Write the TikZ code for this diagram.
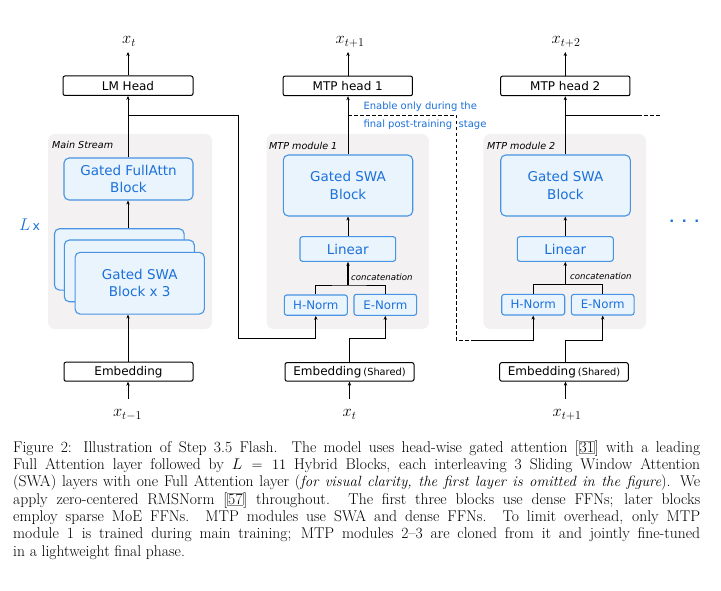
\documentclass[tikz,border=0pt]{standalone}
\usepackage{fontspec}
\usetikzlibrary{arrows.meta}
\DeclareFontShape{OML}{cmm}{m}{it}{<-11>cmmi10<11->cmmi12}{}
\newfontfamily\dv{DejaVu Sans}
\definecolor{bluetxt}{RGB}{28,112,218}
\definecolor{blueborder}{RGB}{72,148,226}
\definecolor{bluefill}{RGB}{233,244,253}
\definecolor{panelgray}{RGB}{243,241,241}
\newcommand\mycite[1]{[{\setlength\fboxsep{0.4pt}\setlength\fboxrule{0.5pt}\fcolorbox{black!45}{white}{#1}}]}
\makeatletter
\newcommand\capit[1]{{\itshape\pgfmathsetmacro\tmpsz{0.95*\f@size}\fontsize{\tmpsz pt}{\f@baselineskip}\selectfont #1}}
\makeatother
\newlength\capw \newlength\tmpw
\newcommand\capfont{\fontsize{13.5}{17.3}\selectfont}
\newcommand\capA{Figure 2: Illustration of Step 3.5 Flash. The model uses head-wise gated attention \mycite{31} with a leading}
\newcommand\capB{Full Attention layer followed by $L = 11$ Hybrid Blocks, each interleaving 3 Sliding Window Attention}
\newcommand\capC{(SWA) layers with one Full Attention layer (\capit{for visual clarity, the first layer is omitted in the figure}). We}
\newcommand\capD{apply zero-centered RMSNorm \mycite{57} throughout. The first three blocks use dense FFNs; later blocks}
\newcommand\capE{employ sparse MoE FFNs. MTP modules use SWA and dense FFNs. To limit overhead, only MTP}
\newcommand\capF{module 1 is trained during main training; MTP modules 2--3 are cloned from it and jointly fine-tuned}
\newcommand\capG{in a lightweight final phase.}
\newcommand\capmeasure[1]{\settowidth\tmpw{\capfont #1}\ifdim\tmpw>\capw\global\capw=\tmpw\fi}
\tikzset{
  blackbox/.style={draw=black, line width=1pt, fill=white, rounded corners=2pt, inner sep=0pt,
    font=\dv\fontsize{12}{14}\selectfont},
  blueblock/.style={draw=blueborder, line width=1.1pt, fill=bluefill, rounded corners=5pt,
    text=bluetxt, align=center, inner sep=0pt, font=\dv\fontsize{13.5}{17.5}\selectfont},
  smallblue/.style={draw=blueborder, line width=1.1pt, fill=bluefill, rounded corners=2.5pt,
    text=bluetxt, inner sep=0pt},
  panel/.style={fill=panelgray, rounded corners=7pt, draw=none, inner sep=0pt},
  paneltitle/.style={font=\dv\itshape\fontsize{9.6}{11}\selectfont, anchor=west, inner sep=0pt},
  mathlbl/.style={font=\fontsize{16.5}{19}\selectfont, inner sep=0pt, anchor=base},
  conn/.style={draw=black, line width=0.9pt},
  arr/.style={conn, -{Stealth[length=4pt,width=3.4pt]}},
  dashconn/.style={conn, dash pattern=on 3.5pt off 2.5pt},
  bluenote/.style={text=bluetxt, font=\dv\fontsize{10}{12}\selectfont, anchor=west, inner sep=0pt},
}
\begin{document}
\begin{tikzpicture}[x=1pt,y=-1pt]
\fill[white] (0,0) rectangle (721,591);
\useasboundingbox (0,0) rectangle (721,591);

% ---------- panels ----------
\node[panel, minimum width=164pt, minimum height=195pt] (p0) at (130,231.5) {};
\node[panel, minimum width=162.3pt, minimum height=195pt] (p1) at (347.8,231.5) {};
\node[panel, minimum width=162.7pt, minimum height=195pt] (p2) at (564.7,231.5) {};
\node[paneltitle] (t0) at (52,145) {Main Stream};
\node[paneltitle] (t1) at (269,145.5) {MTP module 1};
\node[paneltitle] (t2) at (487,145.5) {MTP module 2};

% ---------- main stream ----------
\node[blackbox, minimum width=130pt, minimum height=19.5pt] (lmhead) at (128,85.7) {LM Head};
\node[blueblock, minimum width=129pt, minimum height=42pt] (fullattn) at (128.5,179) {Gated FullAttn\\Block};
\node[smallblue, rounded corners=5pt, minimum width=129.7pt, minimum height=61.3pt] (sback) at (119.3,259.4) {};
\node[smallblue, rounded corners=5pt, minimum width=130pt, minimum height=61.7pt] (smid) at (129.3,270.9) {};
\node[blueblock, minimum width=129.3pt, minimum height=61.7pt] (sfront) at (139.7,283.2) {Gated SWA\\Block x 3};
\node[blackbox, minimum width=129pt, minimum height=19pt] (emb0) at (128.5,371.7) {Embedding};
\node[mathlbl] (xo0) at (129,44) {$x_t$};
\node[mathlbl] (xi0) at (127.5,416.7) {$x_{t-1}$};
\node[text=bluetxt, anchor=base west, inner sep=0pt] (lx) at (19,230)
  {\fontsize{17}{19}\selectfont$L$\hspace{2pt}{\dv\fontsize{12.5}{14}\selectfont x}};

\coordinate (xo0e) at (128,52);
\coordinate (xi0s) at (128,398.5);
\coordinate (j0) at (128,115);
\coordinate (c0) at (238.3,338.3);

\draw[arr] (lmhead.north -| xo0e) -- (xo0e);
\draw[arr] (fullattn.north -| j0) -- (lmhead.south -| j0);
\draw[arr] (j0 |- sback.north) -- (fullattn.south -| j0);
\draw[arr] (emb0.north -| j0) -- (sfront.south -| j0);
\draw[arr] (xi0s) -- (emb0.south -| xi0s);

% ---------- MTP module 1 ----------
\node[blackbox, minimum width=129.3pt, minimum height=19.7pt] (head1) at (347.8,85.9) {MTP head 1};
\node[blueblock, minimum width=129.4pt, minimum height=61pt] (swa1) at (348,185.5) {Gated SWA\\Block};
\node[smallblue, minimum width=95.7pt, minimum height=24.6pt, font=\dv\fontsize{13.5}{16}\selectfont] (lin1) at (347.8,249) {Linear};
\node[smallblue, minimum width=63pt, minimum height=20.3pt, font=\dv\fontsize{11.8}{14}\selectfont] (hn1) at (315.8,305.1) {H-Norm};
\node[smallblue, minimum width=62.7pt, minimum height=21pt, font=\dv\fontsize{11.8}{14}\selectfont] (en1) at (385.3,304.8) {E-Norm};
\node[blackbox, minimum width=129pt, minimum height=18.5pt] (emb1) at (349.5,371.9)
  {Embedding\,{\fontsize{9.8}{11}\selectfont(Shared)}};
\node[mathlbl] (xo1) at (350,44) {$x_{t+1}$};
\node[mathlbl] (xi1) at (349.5,416.7) {$x_t$};
\node[anchor=west, inner sep=0pt, font=\dv\itshape\fontsize{8.6}{10}\selectfont] (cc1) at (351,277.3) {concatenation};
\node[bluenote] (n1) at (363.3,106.7) {Enable only during the};
\node[bluenote] (n2) at (363.3,124.3) {final post-training\hspace{6.5pt}stage};

\coordinate (xo1e) at (348,52);
\coordinate (xi1s) at (349.5,398.5);
\coordinate (k1) at (348,285);
\coordinate (b1) at (349.5,338.5);
\coordinate (d0) at (348,115);
\coordinate (d1) at (456,340);
\coordinate (d2) at (472,340);

\draw[arr] (head1.north -| xo1e) -- (xo1e);
\draw[arr] (swa1.north -| d0) -- (head1.south -| d0);
\draw[arr] (lin1.north -| k1) -- (swa1.south -| k1);
\draw[conn] (hn1.north) |- (k1) -| (en1.north);
\draw[arr, line width=1.3pt] (k1) -- (lin1.south -| k1);
\draw[conn] (j0) -| (c0);
\draw[arr] (c0) -| (hn1.south);
\draw[arr] (emb1.north -| b1) -- (b1) -| (en1.south);
\draw[arr] (xi1s) -- (emb1.south -| xi1s);
\draw[dashconn] (d0) -| (d1) -- (d2);

% ---------- MTP module 2 ----------
\node[blackbox, minimum width=129.3pt, minimum height=19.7pt] (head2) at (565.3,85.9) {MTP head 2};
\node[blueblock, minimum width=129.6pt, minimum height=61pt] (swa2) at (565.5,185.5) {Gated SWA\\Block};
\node[smallblue, minimum width=96pt, minimum height=24.6pt, font=\dv\fontsize{13.5}{16}\selectfont] (lin2) at (565.3,249) {Linear};
\node[smallblue, minimum width=63pt, minimum height=20.6pt, font=\dv\fontsize{11.8}{14}\selectfont] (hn2) at (533.2,304.7) {H-Norm};
\node[smallblue, minimum width=62.7pt, minimum height=20.6pt, font=\dv\fontsize{11.8}{14}\selectfont] (en2) at (602.7,304.7) {E-Norm};
\node[blackbox, minimum width=128.6pt, minimum height=18.5pt] (emb2) at (564,371.9)
  {Embedding\,{\fontsize{9.8}{11}\selectfont(Shared)}};
\node[mathlbl] (xo2) at (566,43.5) {$x_{t+2}$};
\node[mathlbl] (xi2) at (567,416.7) {$x_{t+1}$};
\node[anchor=west, inner sep=0pt, font=\dv\itshape\fontsize{8.6}{10}\selectfont] (cc2) at (570,276.7) {concatenation};
\node[text=bluetxt, anchor=base, inner sep=0pt, font=\dv\bfseries\fontsize{13}{15}\selectfont] (dots) at (684.3,223) {.\hspace{7.5pt}.\hspace{7.5pt}.};

\coordinate (xo2e) at (565.3,52);
\coordinate (xi2s) at (565.5,398.5);
\coordinate (k2) at (565.3,284.5);
\coordinate (b2) at (565.5,340);
\coordinate (e0) at (565.3,115.3);
\coordinate (e1) at (638,115.3);
\coordinate (e2) at (660,115.3);

\draw[arr] (head2.north -| xo2e) -- (xo2e);
\draw[arr] (swa2.north -| e0) -- (head2.south -| e0);
\draw[arr] (lin2.north -| k2) -- (swa2.south -| k2);
\draw[conn] (hn2.north) |- (k2) -| (en2.north);
\draw[arr, line width=1pt] (k2) -- (lin2.south -| k2);
\draw[arr] (d2) -| (hn2.south);
\draw[arr] (emb2.north -| b2) -- (b2) -| (en2.south);
\draw[arr] (xi2s) -- (emb2.south -| xi2s);
\draw[conn] (e0) -- (e1);
\draw[dashconn] (e1) -- (e2);

% ---------- caption ----------
\node[anchor=north west, inner sep=0pt] (cap) at (13,439.9) {%
\global\capw=0pt
\capmeasure{\capA}\capmeasure{\capB}\capmeasure{\capC}\capmeasure{\capD}\capmeasure{\capE}\capmeasure{\capF}%
\global\advance\capw by 1pt
\pgfmathsetmacro\capsize{13.5*687/\capw}%
\parbox{687pt}{%
\fontsize{\capsize pt}{17.3pt}\selectfont\tolerance=9999\emergencystretch=0pt\strut
\capA\linebreak \capB\linebreak \capC\linebreak \capD\linebreak \capE\linebreak \capF\linebreak \capG}};
\end{tikzpicture}
\end{document}
